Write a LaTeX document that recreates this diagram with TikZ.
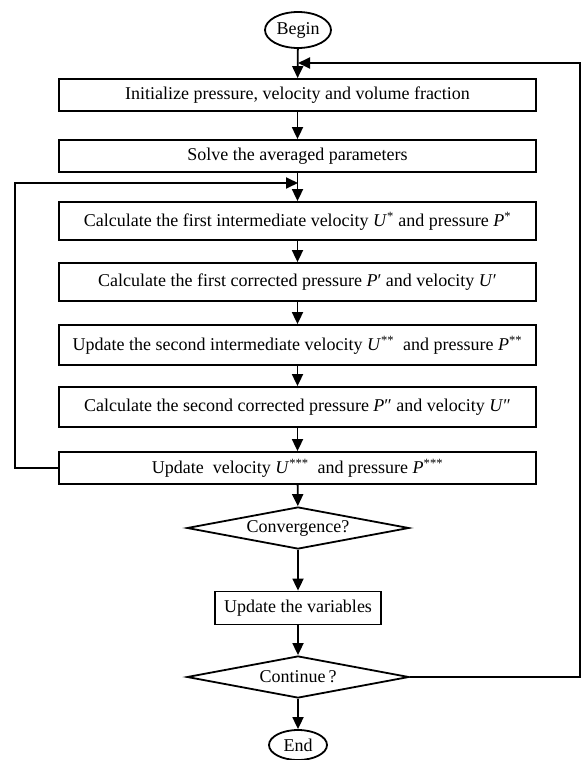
\documentclass[tikz,border=0pt]{standalone}
\usepackage{fontspec}
\setmainfont{Liberation Serif}
\usetikzlibrary{arrows.meta,shapes.geometric}

\newcommand{\var}[2]{\textit{#1}\textsuperscript{#2}}

\begin{document}
\begin{tikzpicture}[x=1pt,y=-1pt,line width=1.8pt,
    font=\fontsize{18}{21}\selectfont,
    flow/.style={-{Triangle[length=12pt,width=11pt]}},
    stepbox/.style={draw,rectangle,minimum width=477pt,inner sep=0pt},
    term/.style={draw,ellipse,inner sep=0pt},
    test/.style={draw,diamond,aspect=5.3,minimum width=222pt,minimum height=42pt,inner sep=0pt}]
  \useasboundingbox (0,0) rectangle (582,760);

  \node[term,minimum width=66pt,minimum height=36pt] (begin) at (298,30) {Begin};
  \node[stepbox,minimum height=32pt] (init) at (297.5,95) {Initialize pressure, velocity and volume fraction};
  \node[stepbox,minimum height=32pt] (avg) at (297.5,156) {Solve the averaged parameters};
  \node[stepbox,minimum height=38pt] (uone) at (297.5,221) {Calculate the first intermediate velocity \var{U}{*} and pressure \var{P}{*}};
  \node[stepbox,minimum height=38pt] (pone) at (297.5,282) {Calculate the first corrected pressure \textit{P}′ and velocity \textit{U}′};
  \node[stepbox,minimum height=40pt] (utwo) at (297.5,345) {Update the second intermediate velocity \var{U}{**}\ \ and pressure \var{P}{**}};
  \node[stepbox,minimum height=40pt] (ptwo) at (297.5,407) {Calculate the second corrected pressure \textit{P}″ and velocity \textit{U}″};
  \node[stepbox,minimum height=32pt] (uthree) at (297.5,468) {Update\ \ velocity \var{U}{***}\ \ and pressure \var{P}{***}};
  \node[test] (conv) at (298,528) {Convergence?};
  \node[draw,minimum width=166pt,minimum height=33pt,inner sep=0pt] (vars) at (298,608) {Update the variables};
  \node[test] (cont) at (298,677) {Continue\,?};
  \node[term,minimum width=58pt,minimum height=30pt] (end) at (298,745) {End};

  \coordinate (jtop) at (298,63);
  \coordinate (rtop) at (580,63);
  \coordinate (jmid) at (298,183);
  \coordinate (lmid) at (15,183);

  \draw[flow] (begin) -- (init);
  \draw[flow] (init) -- (avg);
  \draw[flow] (avg) -- (uone);
  \draw[flow] (uone) -- (pone);
  \draw[flow] (pone) -- (utwo);
  \draw[flow] (utwo) -- (ptwo);
  \draw[flow] (ptwo) -- (uthree);
  \draw[flow] (uthree) -- (conv);
  \draw[flow] (conv) -- (vars);
  \draw[flow] (vars) -- (cont);
  \draw[flow] (cont) -- (end);

  \draw[flow] (uthree.west) -| (lmid) -- (jmid);
  \draw[flow] (cont.east) -| (rtop) -- (jtop);
\end{tikzpicture}
\end{document}
